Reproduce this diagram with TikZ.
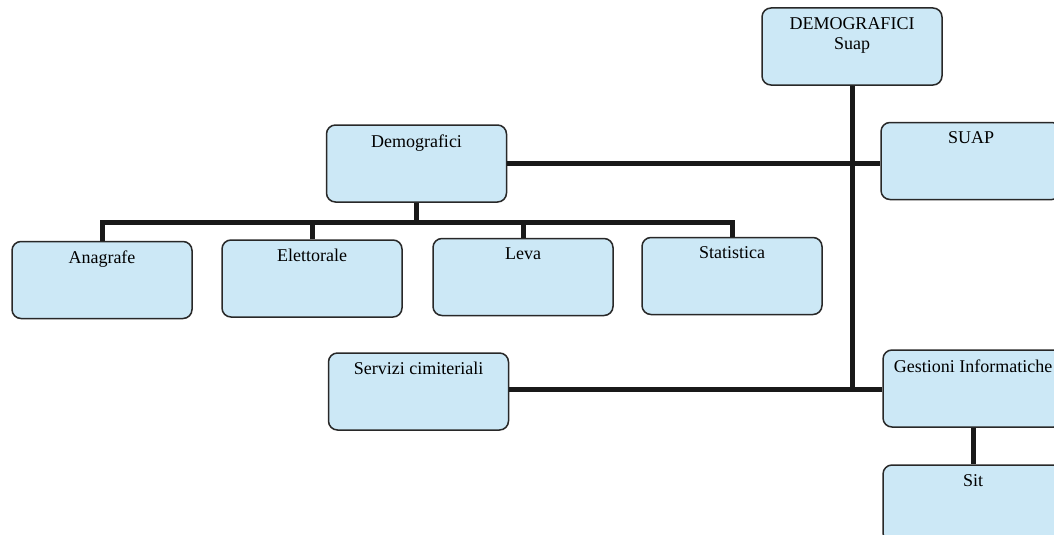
\documentclass[tikz,border=0pt]{standalone}
\usepackage{fontspec}
\setmainfont{Liberation Serif}
\definecolor{boxblue}{RGB}{204,232,246}
\definecolor{edge}{RGB}{40,40,40}
\definecolor{wire}{RGB}{25,25,25}
\begin{document}
\begin{tikzpicture}[x=1pt,y=-1pt,
  orgbox/.style={draw=edge, line width=1.5pt, fill=boxblue, rounded corners=9pt,
    minimum width=180pt, minimum height=77pt, inner sep=0pt},
  boxtext/.style={inner sep=0pt, anchor=north, yshift=-10pt, align=center,
    font=\fontsize{18}{20}\selectfont, text=black},
  wireline/.style={draw=wire, line width=5pt}]
\useasboundingbox (0,0) rectangle (1054,535);
\fill[white] (0,0) rectangle (1054,535);
\clip (0,0) rectangle (1054,535);

\node[orgbox] (top) at (852,46.5) {};
\node[boxtext] at (top.north) {DEMOGRAFICI\\Suap};
\node[orgbox] (demo) at (416.5,163.5) {};
\node[boxtext] at (demo.north) {Demografici};
\node[orgbox] (suap) at (971,161) {};
\node[boxtext] at (suap.north) {SUAP};
\node[orgbox] (anagrafe) at (102,280) {};
\node[boxtext] at (anagrafe.north) {Anagrafe};
\node[orgbox] (elettorale) at (312,278.5) {};
\node[boxtext] at (elettorale.north) {Elettorale};
\node[orgbox] (leva) at (523,277) {};
\node[boxtext] at (leva.north) {Leva};
\node[orgbox] (statistica) at (732,276) {};
\node[boxtext] at (statistica.north) {Statistica};
\node[orgbox] (servizi) at (418.5,391.5) {};
\node[boxtext] at (servizi.north) {Servizi cimiteriali};
\node[orgbox] (gestioni) at (973,388.5) {};
\node[boxtext] at (gestioni.north) {Gestioni Informatiche};
\node[orgbox] (sit) at (973,503.5) {};
\node[boxtext] at (sit.north) {Sit};

\coordinate (bus) at (416.5,222);
\coordinate (hub) at (852,389);

\draw[wireline] (top.south) -- (hub);
\draw[wireline] (servizi.east |- hub) -- (gestioni.west |- hub);
\draw[wireline] (demo.east |- 0,163) -- (suap.west |- 0,163);
\draw[wireline] (demo.south) -- (bus);
\draw[wireline] (anagrafe.north) |- (bus) -| (statistica.north);
\draw[wireline] (elettorale.north) -- (elettorale.north |- bus);
\draw[wireline] (leva.north) -- (leva.north |- bus);
\draw[wireline] (gestioni.south) -- (sit.north);
\end{tikzpicture}
\end{document}
